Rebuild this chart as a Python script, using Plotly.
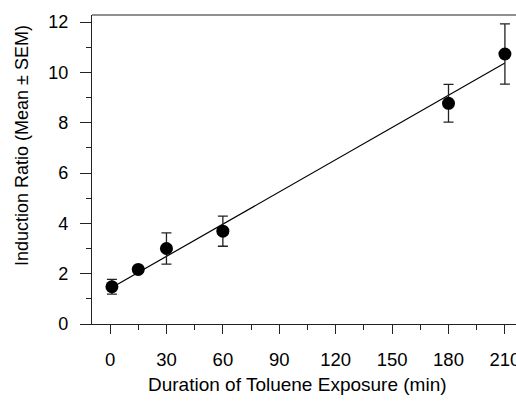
import plotly.graph_objects as go

# Data
duration_min = [1, 15, 30, 60, 180, 210]
induction_ratio = [1.48, 2.17, 3.00, 3.69, 8.77, 10.73]
sem = [0.29, 0.12, 0.62, 0.60, 0.75, 1.20]

# Regression line endpoints
fit_x = [1, 210]
fit_y = [1.45, 10.37]

x_ticks = [0, 30, 60, 90, 120, 150, 180, 210]
y_ticks = [0, 2, 4, 6, 8, 10, 12]

FONT = "Liberation Sans, Arial, sans-serif"

fig = go.Figure()
fig.add_trace(go.Scatter(
    x=fit_x, y=fit_y, mode="lines",
    line=dict(color="black", width=1.2),
    showlegend=False, hoverinfo="skip",
))
fig.add_trace(go.Scatter(
    x=duration_min, y=induction_ratio, mode="markers",
    marker=dict(color="black", size=13),
    error_y=dict(type="data", array=sem, visible=True,
                 color="#222222", thickness=1.3, width=5),
    showlegend=False,
))

fig.update_layout(
    width=516, height=402,
    margin=dict(l=92, r=0, t=15, b=78, autoexpand=False),
    plot_bgcolor="white", paper_bgcolor="white",
    font=dict(family=FONT, size=18, color="black"),
    xaxis=dict(
        range=[-9.6, 215.9],
        tickvals=x_ticks,
        automargin=False,
        ticks="outside", ticklen=9, tickwidth=1.2, tickcolor="#222",
        showline=True, linecolor="#222", linewidth=1.2, mirror=False,
        showgrid=False, zeroline=False,
        ticklabelstandoff=10,
        ticklabeloverflow="allow",
        tickfont=dict(size=18.5),
        minor=dict(ticks="outside", ticklen=5, dtick=15, tick0=15,
                   tickcolor="#222", tickwidth=1.2, showgrid=False),
    ),
    yaxis=dict(
        range=[0, 12.28],
        tickvals=y_ticks,
        automargin=False,
        ticks="outside", ticklen=11, tickwidth=1.2, tickcolor="#222",
        showline=True, linecolor="#222", linewidth=1.2,
        showgrid=False, zeroline=False,
        ticklabelstandoff=8,
        minor=dict(ticks="outside", ticklen=5, dtick=1, tick0=1,
                   tickcolor="#222", tickwidth=1.2, showgrid=False),
    ),
    shapes=[
        dict(type="line", xref="paper", yref="paper",
             x0=0, x1=1, y0=1, y1=1,
             line=dict(color="#222", width=1.2)),
    ],
    annotations=[
        dict(text="Duration of Toluene Exposure (min)",
             xref="paper", yref="paper", x=(297 - 92) / 424, y=-0.195,
             xanchor="center", yanchor="middle", showarrow=False,
             font=dict(family=FONT, size=19, color="black")),
        dict(text="Induction Ratio (Mean ± SEM)",
             xref="paper", yref="paper", x=-(92 - 22) / 424,
             y=(324 - 146) / 309,
             xanchor="center", yanchor="middle", showarrow=False,
             textangle=-90,
             font=dict(family=FONT, size=18, color="black")),
    ],
)

fig.write_html("out.html")
